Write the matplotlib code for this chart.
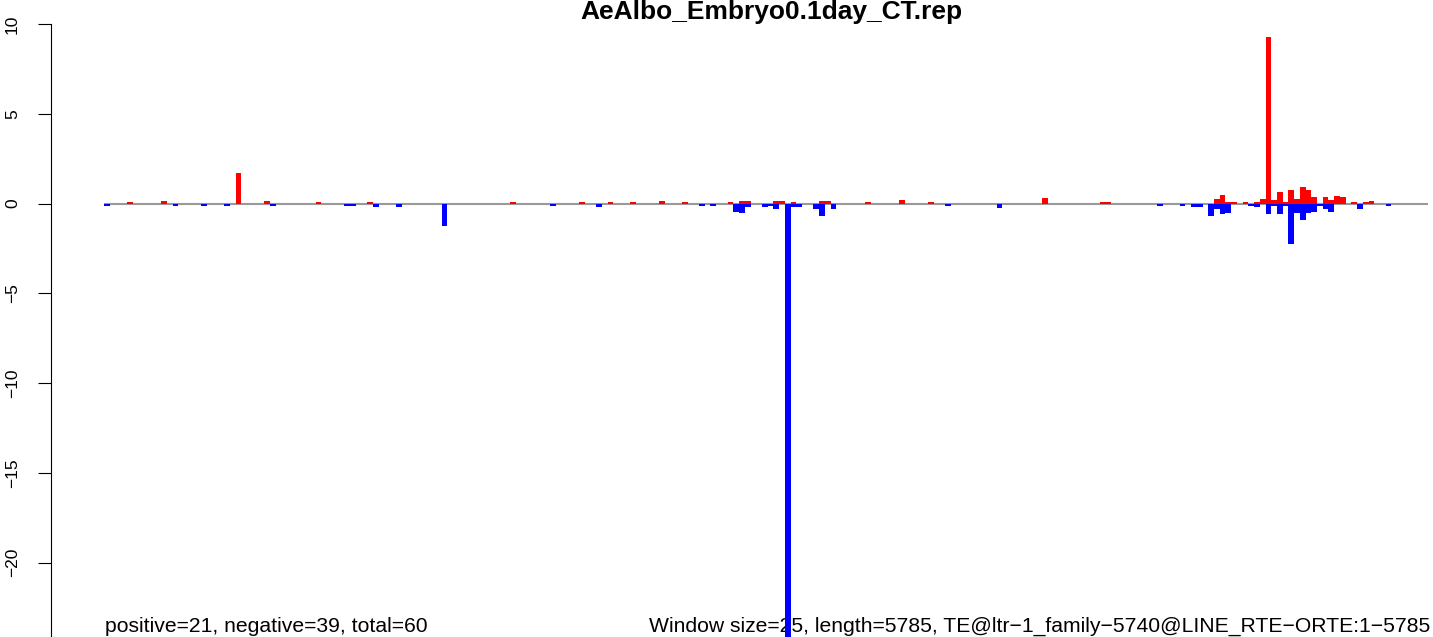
import matplotlib
matplotlib.use('Agg')
import matplotlib.pyplot as plt

plt.rcParams['font.family'] = ['Liberation Sans', 'DejaVu Sans']
plt.rcParams['axes.unicode_minus'] = True

# ---- data -------------------------------------------------------------
title = "AeAlbo_Embryo0.1day_CT.rep"
left_note = "positive=21, negative=39, total=60"
right_note = "Window size=25, length=5785, TE@ltr\u22121_family\u22125740@LINE_RTE\u2212ORTE:1\u22125785"

seq_length = 5785
window_size = 25

pos_idx = [4, 10, 23, 28, 37, 46, 71, 83, 88, 92, 97, 101, 109, 111, 112, 117, 118,
           120, 125, 126, 133, 139, 144, 164, 174, 175, 194, 195, 196, 197, 199, 201,
           202, 203, 204, 205, 206, 207, 208, 209, 210, 211, 213, 214, 215, 216, 218,
           220, 221]
pos_val = [0.08, 0.12, 1.72, 0.12, 0.08, 0.08, 0.08, 0.08, 0.08, 0.08, 0.15, 0.08, 0.08,
           0.12, 0.12, 0.12, 0.12, 0.08, 0.12, 0.12, 0.08, 0.22, 0.08, 0.30, 0.08, 0.08,
           0.26, 0.48, 0.08, 0.08, 0.08, 0.08, 0.26, 9.28, 0.20, 0.65, 0.08, 0.76, 0.26,
           0.93, 0.76, 0.37, 0.37, 0.20, 0.43, 0.37, 0.08, 0.08, 0.12]

neg_idx = [0, 12, 17, 21, 29, 42, 43, 47, 51, 59, 78, 86, 104, 106, 110, 111, 112, 115,
           116, 117, 119, 120, 121, 124, 125, 127, 147, 156, 184, 188, 190, 191, 193, 194,
           195, 196, 200, 201, 203, 204, 205, 206, 207, 208, 209, 210, 211, 212, 213, 214,
           219, 224]
neg_val = [-0.12, -0.12, -0.12, -0.12, -0.12, -0.12, -0.12, -0.20, -0.20, -1.25, -0.12,
           -0.20, -0.12, -0.12, -0.45, -0.50, -0.17, -0.22, -0.12, -0.28, -25.0, -0.17,
           -0.17, -0.28, -0.67, -0.33, -0.12, -0.24, -0.12, -0.12, -0.22, -0.22, -0.67,
           -0.28, -0.57, -0.52, -0.12, -0.17, -0.61, -0.12, -0.61, -0.12, -2.23, -0.50,
           -0.90, -0.50, -0.45, -0.12, -0.28, -0.45, -0.28, -0.12]

y_ticks = [-20, -15, -10, -5, 0, 5, 10]

# ---- figure -----------------------------------------------------------
W, H, DPI = 1433, 637, 100
fig = plt.figure(figsize=(W / DPI, H / DPI), dpi=DPI)
fig.patch.set_facecolor('white')

n_win = seq_length / window_size
ax = fig.add_axes([51 / W, 0, 1430 / W, 1])
ax.set_xlim(-0.04 * n_win, 1.04 * n_win)
ax.set_ylim(-24.15, 11.34)

ax.hlines(0, 0, n_win, color='#999999', linewidth=1.5, zorder=1.5)
ax.bar(pos_idx, pos_val, width=1.0, align='edge', color='#FF0000', linewidth=0, zorder=2)
ax.bar(neg_idx, neg_val, width=1.0, align='edge', color='#0000FF', linewidth=0, zorder=2.1)

for s in ['top', 'right', 'bottom']:
    ax.spines[s].set_visible(False)
ax.spines['left'].set_bounds(-25, 10)
ax.spines['left'].set_linewidth(0.8)
ax.set_xticks([])
ax.set_yticks(y_ticks)
ax.tick_params(axis='y', length=9.4, width=0.8, pad=13, labelsize=12.5, labelrotation=90)
for lab in ax.get_yticklabels():
    lab.set_va('center')

fig.text(771 / W, 1 - 18.5 / H, title, ha='center', va='baseline',
         fontsize=19, fontweight='bold')
ax.text(105 / W, 1 - 632 / H, left_note, transform=fig.transFigure,
        ha='left', va='baseline', fontsize=15.2, zorder=1, clip_on=False)
ax.text(1430 / W, 1 - 632 / H, right_note, transform=fig.transFigure,
        ha='right', va='baseline', fontsize=15.2, zorder=1, clip_on=False)

fig.savefig('out.png', dpi=DPI)
